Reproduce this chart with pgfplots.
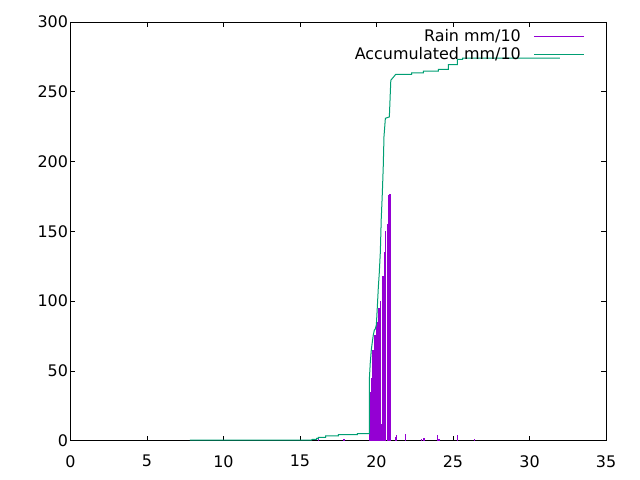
\documentclass[border=0pt]{standalone}
\usepackage{pgfplots}
\pgfplotsset{compat=1.18}
\usepackage{fontspec}
\setmainfont{DejaVu Sans}
\definecolor{rain}{HTML}{9400D3}
\definecolor{acc}{HTML}{009E73}
\begin{document}
\begin{tikzpicture}
\begin{axis}[name=ax, scale only axis, width=535.5bp, height=418.7bp,
  xmin=0, xmax=35, ymin=0, ymax=300,
  xtick={0,5,...,35}, ytick={0,50,...,300},
  tick align=inside, tick pos=both, major tick length=5bp,
  axis line style={line width=0.8bp},
  every tick/.style={black, line width=0.8bp},
  /pgf/number format/assume math mode=true,
  ticklabel style={font=\fontsize{16}{18}\selectfont},
  xticklabel style={yshift=-11bp},
  yticklabel style={xshift=1bp},
  legend cell align=right, legend plot pos=right,
  legend style={at={(0.9608,0.987)}, anchor=north east, draw=none, fill=none,
    font=\fontsize{16}{18}\selectfont, row sep=0bp, inner sep=0pt,
    nodes={inner sep=2bp},
    /tikz/every odd column/.append style={column sep=11bp}},
  legend image code/.code={\draw[#1, line width=1bp] (0bp,0bp) -- (50bp,0bp);},
  clip=true,
]
\addplot[ycomb, rain, line width=1.6bp] coordinates {
(16.21,1.2) (17.88,1)
(19.53,7) (19.59,35) (19.66,45) (19.73,55) (19.79,65) (19.86,72) (19.92,76)
(19.99,78) (20.05,85) (20.12,12) (20.18,95) (20.25,100) (20.31,12) (20.38,114)
(20.44,118) (20.51,135) (20.58,150) (20.75,155) (20.82,176) (20.88,177)
(21.24,2.3) (21.31,4) (21.90,4.7) (22.94,1) (23.10,2) (23.99,4) (24.08,1)
(25.29,4) (26.41,1)
};
\addlegendentry{Rain mm/10}
\addplot[acc, line width=1bp] coordinates {
(7.81,0.5) (15.76,0.5) (15.80,1.0) (16.09,1.0) (16.09,1.7) (16.20,1.7) (16.20,2.4)
(16.68,2.4) (16.68,3.4) (17.50,3.4) (17.50,4.4) (18.75,4.4) (18.75,5.0) (19.53,5.0)
(19.53,43.5) (19.59,55.4) (19.66,65) (19.73,71) (19.79,75.7) (19.86,79.3) (19.92,80)
(19.99,83) (20.05,95) (20.12,110) (20.18,120) (20.25,135) (20.31,159) (20.38,177)
(20.44,196) (20.49,218) (20.58,231) (20.84,232) (20.93,257) (20.95,258.5) (21.03,259.5)
(21.25,262.4) (22.30,262.4) (22.30,263.6) (23.06,263.6) (23.06,264.8) (24.04,264.8)
(24.04,266) (24.69,266) (24.69,269.5) (25.28,269.5) (25.28,273.3) (25.63,273.3)
(25.63,274.2) (31.99,274.2)
};
\addlegendentry{Accumulated mm/10}
\end{axis}
\path[use as bounding box] (ax.south west) ++(-70.5bp,-39.3bp) rectangle ++(640bp,480bp);
\end{tikzpicture}
\end{document}
